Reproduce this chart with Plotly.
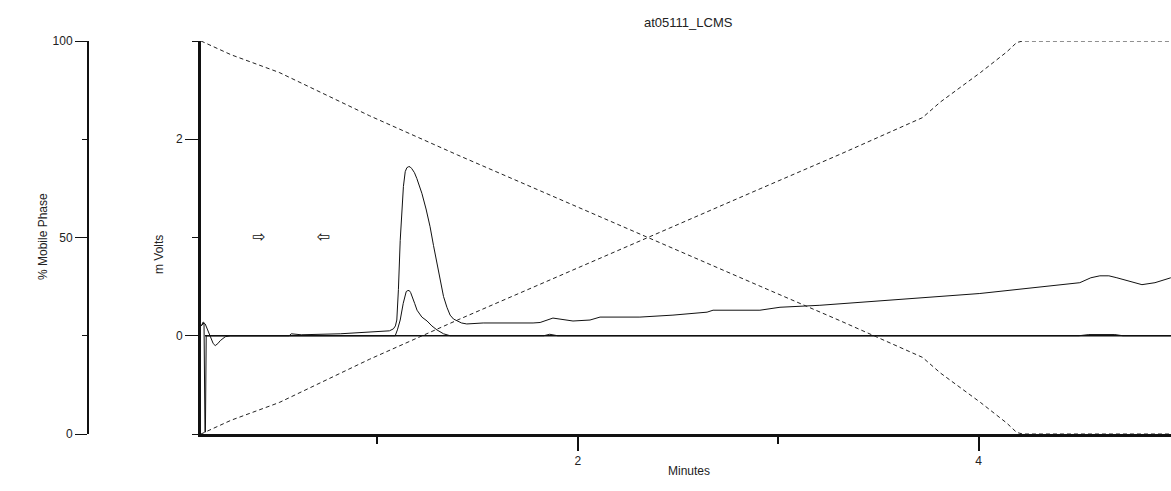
import plotly.graph_objects as go

# ---------------- data ----------------
# mobile-phase gradient (% of channel)
grad_t = [0.12, 0.27, 0.51, 0.96, 1.40, 1.81, 2.35, 2.91, 3.31, 3.72, 3.81, 4.01, 4.14, 4.19, 4.22, 4.96]
grad_b = [0.0, 3.5, 8.0, 19.0, 29.0, 38.0, 50.0, 62.4, 71.2, 80.5, 84.5, 92.0, 97.2, 99.6, 100.0, 100.0]
grad_a = [100.0, 96.5, 92.0, 81.0, 71.0, 62.0, 50.0, 37.6, 28.8, 19.5, 15.5, 8.0, 2.8, 0.4, 0.0, 0.0]

# detector trace 1 (large peak), minutes / mVolts
t1 = [0.121, 0.126, 0.131, 0.141, 0.151, 0.166, 0.181, 0.191, 0.204, 0.216, 0.241, 0.266, 0.56,
      0.57, 0.62, 0.815, 0.915, 1.029, 1.060, 1.080, 1.090, 1.097, 1.105, 1.114, 1.122, 1.130,
      1.139, 1.147, 1.155, 1.163, 1.172, 1.185, 1.197, 1.210, 1.222, 1.243, 1.263, 1.280,
      1.297, 1.313, 1.330, 1.347, 1.363, 1.380, 1.397, 1.420, 1.446, 1.528, 1.777, 1.812,
      1.876, 1.976, 2.061, 2.111, 2.310, 2.475, 2.645, 2.675, 2.909, 3.009, 3.208, 3.672,
      4.006, 4.505, 4.560, 4.605, 4.650, 4.690, 4.760, 4.815, 4.880, 4.959]
mv1 = [0.10, 0.13, 0.14, 0.12, 0.07, 0.00, -0.08, -0.10, -0.08, -0.05, -0.01, 0.00, 0.00,
       0.02, 0.01, 0.02, 0.03, 0.04, 0.05, 0.07, 0.10, 0.16, 0.47, 0.97, 1.31, 1.52,
       1.67, 1.71, 1.72, 1.72, 1.70, 1.66, 1.60, 1.53, 1.45, 1.29, 1.11, 0.92,
       0.74, 0.56, 0.40, 0.29, 0.21, 0.17, 0.15, 0.13, 0.12, 0.13, 0.13, 0.135,
       0.18, 0.15, 0.16, 0.19, 0.19, 0.21, 0.24, 0.26, 0.26, 0.29, 0.31, 0.38,
       0.43, 0.54, 0.59, 0.61, 0.61, 0.59, 0.55, 0.52, 0.54, 0.59]

# detector trace 2 (small peak)
t2 = [0.121, 0.135, 0.140, 0.142, 0.146, 1.089, 1.100, 1.114, 1.129, 1.144, 1.152, 1.159,
      1.166, 1.174, 1.186, 1.198, 1.222, 1.248, 1.272, 1.297, 1.330, 1.363, 1.83, 1.86, 1.90,
      4.50, 4.55, 4.68, 4.72, 4.959]
mv2 = [0.10, 0.13, -0.98, -0.98, 0.00, 0.00, 0.06, 0.16, 0.33, 0.45, 0.46, 0.46,
       0.44, 0.40, 0.33, 0.26, 0.19, 0.15, 0.10, 0.06, 0.02, 0.00, 0.00, 0.015, 0.00,
       0.00, 0.012, 0.012, 0.00, 0.00]

# integration baseline
base_t = [0.14, 4.96]
base_mv = [0.0, 0.0]

# peak-window markers
mark_t = [0.41, 0.73]
mark_mv = [1.0, 1.0]
mark_sym = ["\u21e8", "\u21e6"]

x_major = [2, 4]
x_minor = [1, 3]
mv_major = [0, 2]
mv_minor = [-1, 1, 3]
pct_major = [0, 50, 100]
pct_minor = [25, 75]

# ---------------- figure ----------------
FONT = "Liberation Sans, Arial, sans-serif"
W, H = 1171, 491
ML, MR, MT, MB = 20, 0, 41, 57
PW = W - ML - MR
PH = H - MT - MB


def px(x):
    return (x - ML) / PW


def py(y):
    return (H - MB - y) / PH


fig = go.Figure()

dash_style = dict(color="#222222", width=1, dash="4px,3px")
fig.add_trace(go.Scatter(x=grad_t, y=grad_a, mode="lines", line=dash_style, yaxis="y2"))
fig.add_trace(go.Scatter(x=grad_t, y=grad_b, mode="lines", line=dash_style, yaxis="y2"))

fig.add_trace(go.Scatter(x=base_t, y=base_mv, mode="lines", line=dict(color="#111111", width=1.6)))
fig.add_trace(go.Scatter(x=t2, y=mv2, mode="lines", line=dict(color="#111111", width=1)))
fig.add_trace(go.Scatter(x=t1, y=mv1, mode="lines", line=dict(color="#111111", width=1)))
fig.add_trace(go.Scatter(x=mark_t, y=mark_mv, mode="text", text=mark_sym,
                         textfont=dict(family="DejaVu Sans", size=16, color="#111111")))

tickfont = dict(family=FONT, size=12, color="#222222")

fig.update_layout(
    width=W, height=H,
    margin=dict(l=ML, r=MR, t=MT, b=MB),
    paper_bgcolor="white", plot_bgcolor="white",
    showlegend=False,
    xaxis=dict(
        domain=[px(201), 1.0], range=[0.12, 4.96],
        showgrid=False, zeroline=False,
        showline=True, linecolor="#111111", linewidth=3,
        ticks="outside", tickmode="array", tickvals=x_major, ticklen=14, tickwidth=1.5,
        tickcolor="#111111", tickfont=tickfont,
        minor=dict(tickmode="array", tickvals=x_minor, ticklen=7, tickwidth=1.5,
                   tickcolor="#111111", showgrid=False),
    ),
    yaxis=dict(
        range=[-1, 3], showgrid=False, zeroline=False,
        showline=True, linecolor="#111111", linewidth=3,
        ticks="outside", tickmode="array", tickvals=mv_major, ticklen=13, tickwidth=1,
        tickcolor="#111111", tickfont=tickfont,
        minor=dict(tickmode="array", tickvals=mv_minor, ticklen=6, tickwidth=1,
                   tickcolor="#111111", showgrid=False),
    ),
    yaxis2=dict(
        range=[0, 100], overlaying="y", anchor="free", position=px(88), side="left",
        showgrid=False, zeroline=False,
        showline=True, linecolor="#111111", linewidth=2,
        ticks="outside", tickmode="array", tickvals=pct_major, ticklen=12, tickwidth=1,
        tickcolor="#111111", tickfont=tickfont,
        minor=dict(tickmode="array", tickvals=pct_minor, ticklen=5, tickwidth=1,
                   tickcolor="#111111", showgrid=False),
    ),
    annotations=[
        dict(text="at05111_LCMS", xref="paper", yref="paper", x=px(688), y=py(13),
             showarrow=False, font=dict(family=FONT, size=13, color="#222222")),
        dict(text="Minutes", xref="paper", yref="paper", x=px(689), y=py(480),
             showarrow=False, font=dict(family=FONT, size=12, color="#222222")),
        dict(text="m Volts", xref="paper", yref="paper", x=px(150), y=py(255),
             textangle=-90, showarrow=False, font=dict(family=FONT, size=12, color="#222222")),
        dict(text="% Mobile Phase", xref="paper", yref="paper", x=px(34), y=py(237),
             textangle=-90, showarrow=False, font=dict(family=FONT, size=12, color="#222222")),
    ],
)

fig.write_html(
    "out.html",
    config={"displayModeBar": False},
    post_script="document.body.style.margin='0';document.body.style.overflow='hidden';",
)
